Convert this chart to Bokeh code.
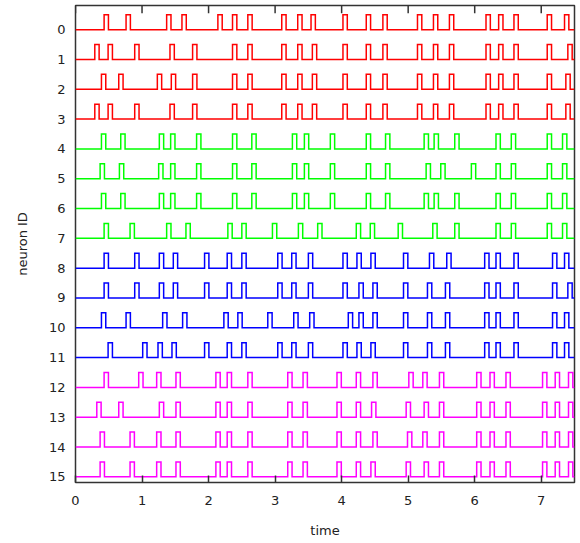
from bokeh.plotting import figure
from bokeh.models import ColumnDataSource, Range1d, FixedTicker
from bokeh.embed import file_html
from bokeh.resources import INLINE

# spike times (time units) per neuron
n0 = [0.43, 0.76, 1.37, 1.60, 2.14, 2.36, 2.59, 3.10, 3.34, 3.54, 4.02, 4.37, 4.62, 5.14, 5.38, 5.62, 6.17, 6.36, 6.59, 7.09, 7.35]
n1 = [0.29, 0.49, 0.89, 1.42, 1.76, 2.36, 2.59, 3.10, 3.34, 3.56, 4.02, 4.37, 4.62, 5.14, 5.38, 5.62, 6.17, 6.36, 6.59, 7.09, 7.40]
n2 = [0.39, 0.65, 1.23, 1.44, 1.76, 2.36, 2.59, 3.10, 3.34, 3.56, 4.02, 4.37, 4.62, 5.14, 5.38, 5.62, 6.17, 6.36, 6.59, 7.09, 7.37]
n3 = [0.29, 0.49, 0.89, 1.42, 1.76, 2.36, 2.59, 3.10, 3.34, 3.56, 4.02, 4.37, 4.62, 5.14, 5.38, 5.62, 6.17, 6.36, 6.59, 7.09, 7.37]
n4 = [0.39, 0.68, 1.26, 1.43, 1.82, 2.36, 2.65, 3.26, 3.44, 3.83, 4.37, 4.66, 5.24, 5.39, 5.70, 6.32, 6.55, 7.09, 7.32]
n5 = [0.37, 0.66, 1.25, 1.43, 1.82, 2.36, 2.65, 3.26, 3.44, 3.83, 4.37, 4.66, 5.27, 5.49, 5.95, 6.32, 6.55, 7.09, 7.32]
n6 = [0.39, 0.68, 1.26, 1.43, 1.82, 2.36, 2.65, 3.26, 3.44, 3.83, 4.37, 4.66, 5.24, 5.39, 5.70, 6.32, 6.55, 7.09, 7.32]
n7 = [0.43, 0.82, 1.37, 1.66, 2.29, 2.50, 2.96, 3.35, 3.64, 4.22, 4.43, 4.85, 5.37, 5.70, 6.32, 6.55, 7.09, 7.32]
n8 = [0.43, 0.89, 1.26, 1.47, 1.94, 2.28, 2.50, 3.04, 3.25, 3.50, 4.02, 4.23, 4.44, 4.93, 5.32, 5.58, 6.15, 6.32, 6.59, 7.17, 7.35]
n9 = [0.43, 0.89, 1.26, 1.47, 1.94, 2.28, 2.50, 3.04, 3.25, 3.50, 4.02, 4.26, 4.47, 4.93, 5.29, 5.56, 6.15, 6.32, 6.59, 7.17, 7.40]
n10 = [0.39, 0.76, 1.31, 1.61, 2.23, 2.44, 2.89, 3.28, 3.52, 4.10, 4.26, 4.47, 4.93, 5.29, 5.56, 6.15, 6.32, 6.59, 7.17, 7.35]
n11 = [0.49, 1.01, 1.24, 1.45, 1.94, 2.28, 2.50, 3.04, 3.25, 3.50, 4.02, 4.23, 4.44, 4.93, 5.29, 5.56, 6.15, 6.32, 6.59, 7.17, 7.35]
n12 = [0.43, 0.95, 1.22, 1.51, 2.11, 2.28, 2.59, 3.19, 3.42, 3.93, 4.22, 4.47, 5.01, 5.22, 5.47, 6.03, 6.23, 6.47, 7.02, 7.21, 7.41]
n13 = [0.32, 0.65, 1.26, 1.51, 2.11, 2.28, 2.59, 3.19, 3.42, 3.93, 4.22, 4.45, 4.97, 5.24, 5.47, 6.03, 6.23, 6.47, 7.02, 7.21, 7.41]
n14 = [0.37, 0.82, 1.22, 1.51, 2.11, 2.28, 2.59, 3.19, 3.42, 3.93, 4.22, 4.47, 4.99, 5.22, 5.47, 6.03, 6.23, 6.47, 7.02, 7.21, 7.41]
n15 = [0.37, 0.82, 1.22, 1.51, 2.11, 2.28, 2.59, 3.19, 3.42, 3.93, 4.22, 4.44, 4.97, 5.24, 5.47, 6.03, 6.23, 6.47, 7.02, 7.21, 7.41]

spikes = [n0, n1, n2, n3, n4, n5, n6, n7, n8, n9, n10, n11, n12, n13, n14, n15]
neuron_ids = list(range(16))
neuron_labels = [str(i) for i in neuron_ids]
group_colors = ["#ff0000"] * 4 + ["#00ff00"] * 4 + ["#0000ff"] * 4 + ["#ff00ff"] * 4
time_ticks = [0, 1, 2, 3, 4, 5, 6, 7]

t_min, t_max = 0.0, 7.5
y_top, y_bottom = -0.81, 15.19
pulse_w = 0.065
pulse_h = 0.5

xs_all, ys_all = [], []
for nid, times in zip(neuron_ids, spikes):
    xs, ys = [t_min], [nid]
    for t in times:
        xs += [t, t, t + pulse_w, t + pulse_w]
        ys += [nid, nid - pulse_h, nid - pulse_h, nid]
    xs.append(t_max)
    ys.append(nid)
    xs_all.append(xs)
    ys_all.append(ys)

src = ColumnDataSource(dict(xs=xs_all, ys=ys_all, color=group_colors))

p = figure(width=578, height=540, output_backend="svg", toolbar_location=None,
           x_range=Range1d(t_min, t_max), y_range=Range1d(y_bottom, y_top),
           min_border_left=75, min_border_right=4, min_border_top=5, min_border_bottom=0)

p.multi_line(xs="xs", ys="ys", line_color="color", line_width=1.5, line_join="miter", source=src)

# inward tick marks along the top edge of the frame (mirroring the bottom axis ticks)
tick_len = 0.26
p.segment(x0=time_ticks, y0=[y_top] * len(time_ticks), x1=time_ticks,
          y1=[y_top + tick_len] * len(time_ticks), line_color="#333333", line_width=1.5)

p.grid.visible = False
p.outline_line_color = "#333333"
p.outline_line_width = 1.5
p.background_fill_color = "white"
p.border_fill_color = "white"

font = "DejaVu Sans"
xa = p.xaxis[0]
xa.ticker = FixedTicker(ticks=time_ticks)
xa.axis_label = "time"
xa.axis_line_color = None
xa.major_tick_in = 7
xa.major_tick_out = 0
xa.major_tick_line_color = "#333333"
xa.major_tick_line_width = 1.5
xa.minor_tick_line_color = None
xa.major_label_standoff = 13
xa.axis_label_standoff = 15
xa.major_label_text_font = font
xa.major_label_text_font_size = "13px"
xa.major_label_text_color = "#222222"
xa.axis_label_text_font = font
xa.axis_label_text_font_size = "13px"
xa.axis_label_text_font_style = "normal"
xa.axis_label_text_color = "#222222"

ya = p.yaxis[0]
ya.ticker = FixedTicker(ticks=neuron_ids)
ya.major_label_overrides = {i: lab for i, lab in zip(neuron_ids, neuron_labels)}
ya.axis_label = "neuron ID"
ya.axis_line_color = None
ya.major_tick_in = 0
ya.major_tick_out = 0
ya.minor_tick_line_color = None
ya.major_label_standoff = 10
ya.axis_label_standoff = 16
ya.major_label_text_font = font
ya.major_label_text_font_size = "13px"
ya.major_label_text_color = "#222222"
ya.axis_label_text_font = font
ya.axis_label_text_font_size = "13px"
ya.axis_label_text_font_style = "normal"
ya.axis_label_text_color = "#222222"

open("out.html", "w").write(file_html(p, INLINE))
